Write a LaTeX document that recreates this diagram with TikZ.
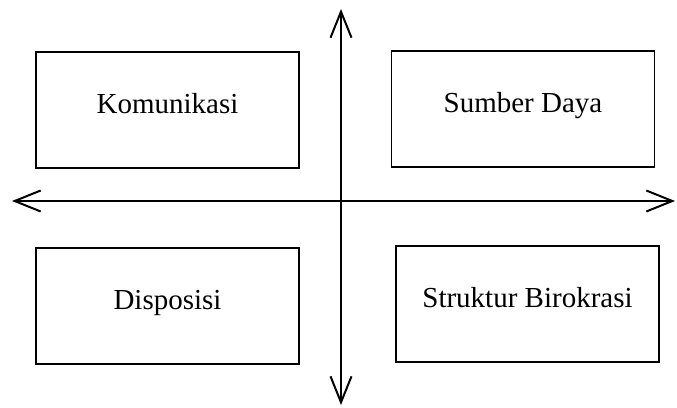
\documentclass[tikz,border=0pt]{standalone}
\usepackage{fontspec}
\setmainfont{Liberation Serif}
\usetikzlibrary{arrows.meta}
\begin{document}
\begin{tikzpicture}[x=1pt,y=-1pt,
  quadbox/.style={draw,line width=1.8pt,minimum width=263pt,minimum height=116pt,inner sep=0pt,text height=20pt,text depth=13pt,font=\fontsize{29}{33}\selectfont},
  axis/.style={line width=2pt,{Straight Barb[length=26pt,width=21pt]}-{Straight Barb[length=26pt,width=21pt]}}]
\useasboundingbox (0,0) rectangle (677,407);
\node[quadbox] (kom) at (167.5,110) {Komunikasi};
\node[quadbox] (sd) at (523,109) {Sumber Daya};
\node[quadbox] (dis) at (167.5,306) {Disposisi};
\node[quadbox] (sb) at (527.5,304) {Struktur Birokrasi};
\coordinate (top) at (341,9);
\coordinate (bot) at (341,405);
\coordinate (lft) at (12,201);
\coordinate (rgt) at (675,201);
\draw[axis] (bot) -- (top);
\draw[axis] (lft) -- (rgt);
\end{tikzpicture}
\end{document}
